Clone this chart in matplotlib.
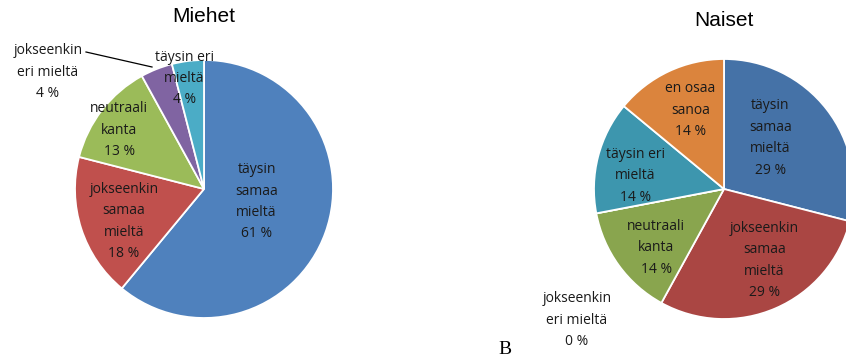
import numpy as np
import matplotlib.pyplot as plt

# Vastausten jakaumat (%)
miehet_luokat = ['täysin\nsamaa\nmieltä', 'jokseenkin\nsamaa\nmieltä', 'neutraali\nkanta',
                 'jokseenkin\neri mieltä', 'täysin eri\nmieltä']
miehet_arvot = [61, 18, 13, 4, 4]

naiset_luokat = ['täysin\nsamaa\nmieltä', 'jokseenkin\nsamaa\nmieltä', 'neutraali\nkanta',
                 'jokseenkin\neri mieltä', 'täysin eri\nmieltä', 'en osaa\nsanoa']
naiset_arvot = [29, 29, 14, 0, 14, 14]

miehet_varit = ['#4F81BD', '#C0504D', '#9BBB59', '#8064A2', '#4BACC6']
naiset_varit = ['#4572A7', '#AA4643', '#89A54E', '#80699B', '#3D96AE', '#DB843D']

W, H = 846, 363
fig = plt.figure(figsize=(W / 100, H / 100), dpi=100)
fig.patch.set_facecolor('white')

LABEL_FONT = ['Open Sans', 'DejaVu Sans']
LABEL_KW = dict(ha='center', va='center', fontsize=10, linespacing=1.58,
                family=LABEL_FONT, color='#1a1a1a')
L = 160


def piirakka(cx, cy, r, arvot, varit):
    # akseli pikseliyksiköissä, keskipiste (cx, cy) kuvan yläkulmasta
    ax = fig.add_axes([(cx - L) / W, (H - cy - L) / H, 2 * L / W, 2 * L / H])
    wedges, _ = ax.pie(arvot, colors=varit, radius=r, startangle=90, counterclock=False,
                       wedgeprops=dict(edgecolor='white', linewidth=1.3))
    ax.set_xlim(-L, L)
    ax.set_ylim(-L, L)
    ax.set_aspect('equal')
    ax.axis('off')
    return ax, wedges


def nimio(ax, wedge, teksti, arvo, kerroin, r, kulmasiirto=0):
    th = np.deg2rad((wedge.theta1 + wedge.theta2) / 2 + kulmasiirto)
    ax.text(kerroin * r * np.cos(th), kerroin * r * np.sin(th), f'{teksti}\n{arvo} %', **LABEL_KW)


# Miehet
R1 = 129
ax1, w1 = piirakka(204, 189, R1, miehet_arvot, miehet_varit)
ax1.text(0, 189 - 17, 'Miehet', ha='center', va='center', family='Liberation Sans', fontsize=15)
nimio(ax1, w1[0], miehet_luokat[0], miehet_arvot[0], 0.42, R1, 6)
nimio(ax1, w1[1], miehet_luokat[1], miehet_arvot[1], 0.67, R1, 4)
nimio(ax1, w1[2], miehet_luokat[2], miehet_arvot[2], 0.80, R1, 3)
nimio(ax1, w1[4], miehet_luokat[4], miehet_arvot[4], 0.87, R1, 3)
# pieni siivu: nimiö ulkopuolelle ja viiva
ax1.text(48 - 204, 189 - 72, f'{miehet_luokat[3]}\n{miehet_arvot[3]} %', clip_on=False, **LABEL_KW)
ax1.plot([86 - 204, 152 - 204], [189 - 52, 189 - 67], color='black', lw=0.9, clip_on=False)

# Naiset
R2 = 130
ax2, w2 = piirakka(724, 189, R2, naiset_arvot, naiset_varit)
ax2.text(0, 189 - 20, 'Naiset', ha='center', va='center', family='Liberation Sans', fontsize=15)
nimio(ax2, w2[0], naiset_luokat[0], naiset_arvot[0], 0.53, R2, 10)
nimio(ax2, w2[1], naiset_luokat[1], naiset_arvot[1], 0.63, R2, 6)
nimio(ax2, w2[2], naiset_luokat[2], naiset_arvot[2], 0.69, R2, 5)
nimio(ax2, w2[4], naiset_luokat[4], naiset_arvot[4], 0.69, R2, 6)
nimio(ax2, w2[5], naiset_luokat[5], naiset_arvot[5], 0.66, R2, -2)
ax2.text(577 - 724, 189 - 320, f'{naiset_luokat[3]}\n{naiset_arvot[3]} %', **LABEL_KW)

fig.text(505 / W, 1 - 349 / H, 'B', ha='center', va='center', family='Liberation Serif', fontsize=14)

fig.savefig('out.png', dpi=100)
